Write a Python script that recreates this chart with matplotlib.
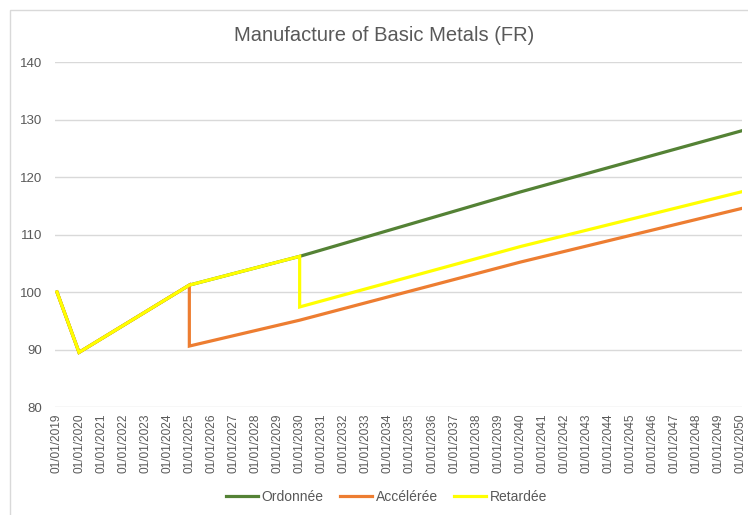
import matplotlib

matplotlib.use("Agg")
import matplotlib.pyplot as plt
from matplotlib.patches import Rectangle

# Data (years as x; duplicate x = vertical step on a date axis)
ordonnee_x = [2019, 2020, 2025, 2030, 2040, 2050]
ordonnee_y = [100, 89.5, 101.2, 106.2, 117.4, 128.0]

acceleree_x = [2019, 2020, 2025, 2025, 2030, 2040, 2050]
acceleree_y = [100, 89.5, 101.2, 90.6, 95.1, 105.2, 114.5]

retardee_x = [2019, 2020, 2025, 2030, 2030, 2040, 2050]
retardee_y = [100, 89.5, 101.2, 106.2, 97.4, 107.9, 117.4]

years = list(range(2019, 2051))
tick_labels = [f"01/01/{y}" for y in years]
yticks = [80, 90, 100, 110, 120, 130, 140]

GREY = "#595959"
plt.rcParams["font.family"] = ["Liberation Sans", "DejaVu Sans"]

fig = plt.figure(figsize=(7.48, 5.15), dpi=100)
ax = fig.add_axes([0.0735, 0.2097, 0.9185, 0.6699])

# chart frame like Excel
fig.patches.append(Rectangle((10 / 748, -0.05), 1.1, 1 - 10 / 515 + 0.05,
                             transform=fig.transFigure, fill=False,
                             edgecolor="#d9d9d9", linewidth=1))

ax.plot(ordonnee_x, ordonnee_y, color="#548235", lw=2.3, label="Ordonnée",
        solid_joinstyle="miter")
ax.plot(acceleree_x, acceleree_y, color="#ED7D31", lw=2.3, label="Accélérée",
        solid_joinstyle="miter")
ax.plot(retardee_x, retardee_y, color="#FFFF00", lw=2.3, label="Retardée",
        solid_joinstyle="miter")

ax.set_xlim(2018.91, 2050.05)
ax.set_ylim(80, 140)
ax.set_xticks(years)
ax.set_xticklabels(tick_labels, rotation=90, fontsize=8.6, color=GREY)
ax.set_yticks(yticks)
ax.set_yticklabels([str(v) for v in yticks], fontsize=9.5, color=GREY)
ax.tick_params(length=0, pad=9)
ax.tick_params(axis="x", pad=5)
for s in ax.spines.values():
    s.set_visible(False)
ax.grid(True, axis="y", color="#d9d9d9", lw=1)
ax.set_axisbelow(True)

fig.text(0.514, 0.932, "Manufacture of Basic Metals (FR)", ha="center",
         va="center", fontsize=14.5, color=GREY)

fig.legend(loc="center", bbox_to_anchor=(0.517, 0.035), ncol=3, frameon=False,
           fontsize=10, labelcolor=GREY, handlelength=2.3, columnspacing=1.2,
           handletextpad=0.25)

fig.savefig("out.png", dpi=100)
